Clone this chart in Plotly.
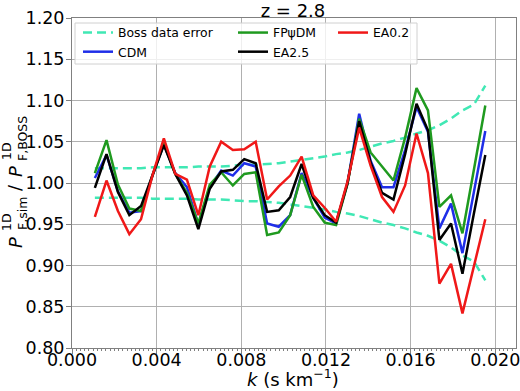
import plotly.graph_objects as go

# ---- data ----
k = [0.00108, 0.00163, 0.00217, 0.00271, 0.00326, 0.00380, 0.00434, 0.00488,
     0.00543, 0.00597, 0.00651, 0.00705, 0.00760, 0.00814, 0.00868, 0.00922,
     0.00977, 0.01031, 0.01085, 0.01140, 0.01194, 0.01248, 0.01302, 0.01357,
     0.01411, 0.01465, 0.01519, 0.01574, 0.01628, 0.01682, 0.01736, 0.01791,
     0.01845, 0.01899, 0.01953]

boss_err = [0.018, 0.018, 0.018, 0.018, 0.018, 0.019, 0.019, 0.019, 0.019, 0.020,
            0.020, 0.020, 0.021, 0.022, 0.022, 0.023, 0.024, 0.026, 0.028, 0.030,
            0.032, 0.035, 0.037, 0.040, 0.044, 0.048, 0.051, 0.055, 0.060, 0.064,
            0.070, 0.078, 0.088, 0.095, 0.118]

cdm = [1.006, 1.034, 0.990, 0.964, 0.966, 1.009, 1.047, 1.012, 0.995, 0.950,
       0.995, 1.015, 1.009, 1.024, 1.020, 0.951, 0.947, 0.961, 1.012, 0.982,
       0.958, 0.951, 1.000, 1.084, 1.027, 0.995, 0.995, 1.040, 1.092, 1.062,
       0.945, 0.975, 0.915, 0.989, 1.063]

fpdm = [1.012, 1.052, 0.998, 0.969, 0.966, 1.009, 1.048, 1.011, 0.988, 0.951,
        0.998, 1.013, 0.997, 1.011, 1.013, 0.937, 0.940, 0.961, 1.010, 0.971,
        0.952, 0.949, 0.999, 1.078, 1.037, 1.020, 1.003, 1.055, 1.115, 1.088,
        0.971, 0.985, 0.939, 1.016, 1.094]

ea25 = [0.994, 1.035, 0.989, 0.961, 0.972, 1.009, 1.046, 1.011, 0.985, 0.944,
        0.993, 1.014, 1.016, 1.029, 1.024, 0.965, 0.967, 0.983, 1.023, 0.982,
        0.961, 0.952, 1.000, 1.075, 1.025, 0.988, 0.980, 1.035, 1.096, 1.064,
        0.931, 0.951, 0.890, 0.963, 1.034]

ea02 = [0.959, 1.003, 0.966, 0.938, 0.956, 1.009, 1.054, 1.011, 1.004, 0.961,
        1.020, 1.050, 1.040, 1.041, 1.050, 0.980, 0.996, 1.009, 1.032, 0.985,
        0.970, 0.953, 1.002, 1.067, 1.021, 0.983, 0.965, 0.997, 1.060, 1.012,
        0.878, 0.902, 0.842, 0.899, 0.956]

x_ticks = [0.000, 0.004, 0.008, 0.012, 0.016, 0.020]
y_ticks = [0.80, 0.85, 0.90, 0.95, 1.00, 1.05, 1.10, 1.15, 1.20]

W, H = 520, 391
L, R, T, B = 72, 4, 18, 43
PW, PH = W - L - R, H - T - B

BOSS_C = "#40e8b4"
FONT = "DejaVu Sans"

upper = [1 + e for e in boss_err]
lower = [1 - e for e in boss_err]

fig = go.Figure()
fig.add_trace(go.Scatter(x=k, y=upper, mode="lines", name="Boss data error",
                         line=dict(color=BOSS_C, width=2.5, dash="9px,5px"),
                         legend="legend", legendrank=1))
fig.add_trace(go.Scatter(x=k, y=lower, mode="lines", name="Boss data error",
                         line=dict(color=BOSS_C, width=2.5, dash="9px,5px"),
                         showlegend=False, legend="legend"))
fig.add_trace(go.Scatter(x=k, y=cdm, mode="lines", name="CDM",
                         line=dict(color="#1f2ee8", width=2.5),
                         legend="legend", legendrank=2))
fig.add_trace(go.Scatter(x=k, y=fpdm, mode="lines", name="FPψDM",
                         line=dict(color="#1f9a1f", width=2.5),
                         legend="legend2", legendrank=1))
fig.add_trace(go.Scatter(x=k, y=ea25, mode="lines", name="EA2.5",
                         line=dict(color="black", width=2.5),
                         legend="legend2", legendrank=2))
fig.add_trace(go.Scatter(x=k, y=ea02, mode="lines", name="EA0.2",
                         line=dict(color="#f01818", width=2.5),
                         legend="legend3", legendrank=1))

def px2x(px):
    return (px - L) / PW

def py2y(py):
    return (H - B - py) / PH

leg_common = dict(bgcolor="rgba(0,0,0,0)", borderwidth=0,
                  font=dict(family=FONT, size=12.4, color="black"),
                  xanchor="left", yanchor="top", tracegroupgap=0,
                  orientation="v")
fig.update_layout(
    legend=dict(x=px2x(78), y=py2y(18), **leg_common),
    legend2=dict(x=px2x(233), y=py2y(18), **leg_common),
    legend3=dict(x=px2x(333), y=py2y(18), **leg_common),
)

# legend frame
fig.add_shape(type="rect", xref="paper", yref="paper",
              x0=px2x(75), x1=px2x(417), y0=py2y(64), y1=py2y(23),
              line=dict(color="#d0d0d0", width=1),
              fillcolor="rgba(255,255,255,0.8)", layer="above")

# stacked y-axis label pieces (rotated)
def lab(text, px, py, size, italic=False):
    t = f"<i>{text}</i>" if italic else text
    fig.add_annotation(text=t, xref="paper", yref="paper", x=px2x(px), y=py2y(py),
                       xanchor="center", yanchor="middle", textangle=-90,
                       showarrow=False, font=dict(family=FONT, size=size, color="black"))

lab("P", 15, 243, 18, True)
lab("1D", 6, 222, 12.5)
lab("F,sim", 22, 214, 12.5)
lab("/", 14, 188, 18)
lab("P", 15, 172, 18, True)
lab("1D", 6, 151, 12.5)
lab("F,BOSS", 22, 139, 12.5)

# x-axis title
fig.add_annotation(text="<i>k</i> (s km<sup>−1</sup>)", xref="paper", yref="paper",
                   x=px2x(292.5), y=py2y(378), xanchor="center", yanchor="middle",
                   showarrow=False, font=dict(family=FONT, size=18, color="black"))

axis_common = dict(showline=True, linecolor="#808080", linewidth=1, mirror=True,
                   showgrid=True, gridcolor="#b0b0b0", gridwidth=1,
                   ticks="outside", ticklen=5, tickcolor="#808080", tickwidth=1,
                   zeroline=False, automargin=False,
                   tickfont=dict(family=FONT, size=17.5, color="black"))

fig.update_xaxes(range=[0, 0.02098], tickvals=x_ticks,
                 ticktext=[f"{v:.3f}" for v in x_ticks],
                 ticklabelstandoff=-9, ticklabeloverflow="allow",
                 minor=dict(dtick=0.0002, tick0=0, ticks="outside", ticklen=2,
                            tickcolor="#808080", showgrid=False),
                 **axis_common)
fig.update_yaxes(range=[0.80, 1.20], tickvals=y_ticks,
                 ticktext=[f"{v:.2f}" for v in y_ticks],
                 ticklabelstandoff=-2, ticklabeloverflow="allow",
                 **axis_common)

fig.update_layout(
    width=W, height=H,
    margin=dict(l=L, r=R, t=T, b=B, pad=0, autoexpand=False),
    paper_bgcolor="white", plot_bgcolor="white",
    title=dict(text="z = 2.8", x=293 / W, xanchor="center",
               y=1 - 4 / H, yanchor="top", yref="container", pad=dict(t=0, b=0),
               automargin=False,
               font=dict(family=FONT, size=18, color="black")),
    font=dict(family=FONT),
)

fig.write_html("out.html", config={"displayModeBar": False},
               post_script="document.body.style.margin='0';document.body.style.overflow='hidden';")
